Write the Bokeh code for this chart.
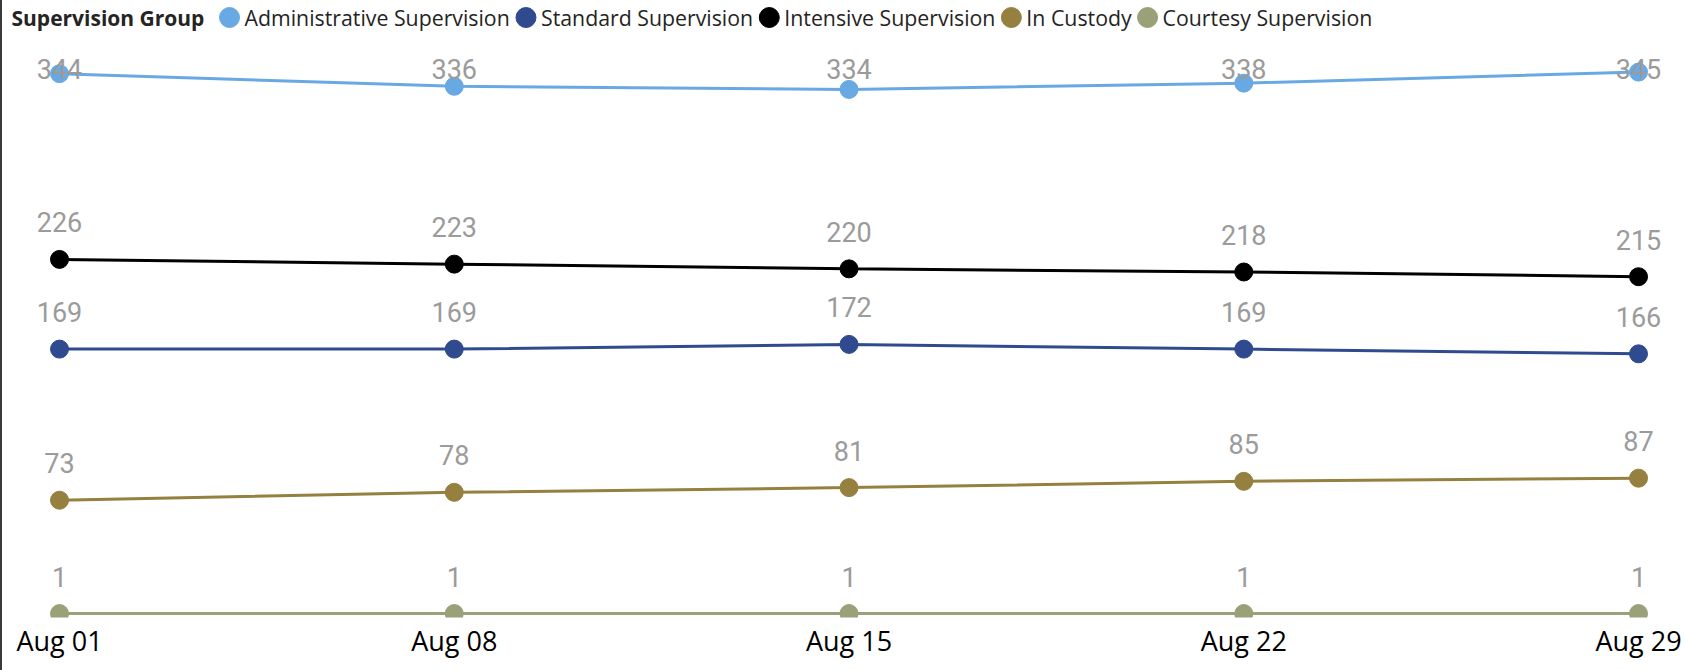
import numpy as np
import pandas as pd
from bokeh.plotting import figure
from bokeh.models import Range1d, FixedTicker, Label, ColumnDataSource
from bokeh.core.properties import value
from bokeh.embed import file_html
from bokeh.resources import INLINE

# ---------------- data ----------------
dates = ["2023-08-01", "2023-08-08", "2023-08-15", "2023-08-22", "2023-08-29"]
tick_labels = ["Aug 01", "Aug 08", "Aug 15", "Aug 22", "Aug 29"]
series_names = ["Administrative Supervision", "Standard Supervision",
                "Intensive Supervision", "In Custody", "Courtesy Supervision"]
administrative = [344, 336, 334, 338, 345]
standard = [169, 169, 172, 169, 166]
intensive = [226, 223, 220, 218, 215]
in_custody = [73, 78, 81, 85, 87]
courtesy = [1, 1, 1, 1, 1]
series_values = [administrative, standard, intensive, in_custody, courtesy]
colors = ["#68A9E3", "#2F4A8F", "#000000", "#96803F", "#9AA078"]
legend_title = "Supervision Group"

# ---------------- layout ----------------
W, H = 1683, 670
FRAME_H = 617
DAY = 86400000.0
x = [pd.Timestamp(d).value / 1e6 for d in dates]
x_start, x_end = x[0] - 1.011 * DAY, x[-1] + 0.833 * DAY
y_start, y_end = -1.52, 390.5
ppu = FRAME_H / (y_end - y_start)


def px_to_x(px):
    return x_start + px / W * (x_end - x_start)


def py_to_y(py):
    return y_end - py / FRAME_H * (y_end - y_start)


# Open Sans advance widths (units per em = 2048) for legend layout
OS_W = {" ": 532, "A": 1296, "C": 1292, "I": 553, "S": 1124, "a": 1139, "d": 1255,
        "e": 1149, "i": 518, "m": 1905, "n": 1257, "o": 1237, "p": 1255, "r": 836,
        "s": 977, "t": 723, "u": 1257, "v": 1026, "y": 1030}


def text_w(s, size):
    return sum(OS_W.get(c, 1150) for c in s) / 2048.0 * size


p = figure(width=W, height=H, frame_width=W, frame_height=FRAME_H,
           x_range=Range1d(x_start, x_end), y_range=Range1d(y_start, y_end),
           x_axis_type="datetime", y_axis_location=None,
           output_backend="svg", toolbar_location=None,
           min_border_left=0, min_border_right=0, min_border_top=0,
           min_border_bottom=H - FRAME_H,
           styles={"border-left": "2px solid #3a3a3a"})
p.grid.visible = False
p.outline_line_color = None
p.background_fill_color = "white"
p.border_fill_color = "white"

ax = p.xaxis[0]
ax.ticker = FixedTicker(ticks=x)
ax.major_label_overrides = {xv: lab for xv, lab in zip(x, tick_labels)}
ax.axis_line_color = None
ax.major_tick_line_color = None
ax.minor_tick_line_color = None
ax.major_tick_out = 0
ax.major_tick_in = 0
ax.major_label_standoff = 4
ax.major_label_text_font = "Open Sans"
ax.major_label_text_font_size = "27px"
ax.major_label_text_color = "#000000"

for name, vals, col in zip(series_names, series_values, colors):
    vals = np.array(vals, dtype=float)
    src = ColumnDataSource(dict(x=x, y=vals))
    p.line("x", "y", source=src, line_color=col, line_width=3)
    p.scatter("x", "y", source=src, size=18, fill_color=col, line_color=col)
    label_y = np.minimum(vals + 37 / ppu, y_end - 68 / ppu)
    lsrc = ColumnDataSource(dict(x=x, y=label_y, t=[str(int(v)) for v in vals]))
    p.text("x", "y", text="t", source=lsrc, text_font=value("Roboto"),
           text_font_size="27px", text_color="#9B9B9B",
           text_align="center", text_baseline="middle")

# ---------------- legend (inline, Power BI style) ----------------
LEG_FS = 21.3
LEG_Y = 17
p.add_layout(Label(x=9, y=FRAME_H - LEG_Y, x_units="screen", y_units="screen",
                   text=legend_title, text_font="Open Sans", text_font_style="bold",
                   text_font_size="21px", text_baseline="middle",
                   text_color="#252423"))
cx = 227
leg_cx, leg_cy = [], []
for name, col in zip(series_names, colors):
    leg_cx.append(px_to_x(cx))
    leg_cy.append(py_to_y(LEG_Y))
    tx = cx + 10 + 5
    p.add_layout(Label(x=tx, y=FRAME_H - LEG_Y, x_units="screen", y_units="screen",
                       text=name, text_font="Open Sans",
                       text_font_size=f"{LEG_FS}px", text_baseline="middle",
                       text_color="#252423"))
    cx = tx + text_w(name, LEG_FS) + 6 + 10
p.scatter(leg_cx, leg_cy, size=20, fill_color=colors, line_color=colors)

open("out.html", "w").write(file_html(p, INLINE))
